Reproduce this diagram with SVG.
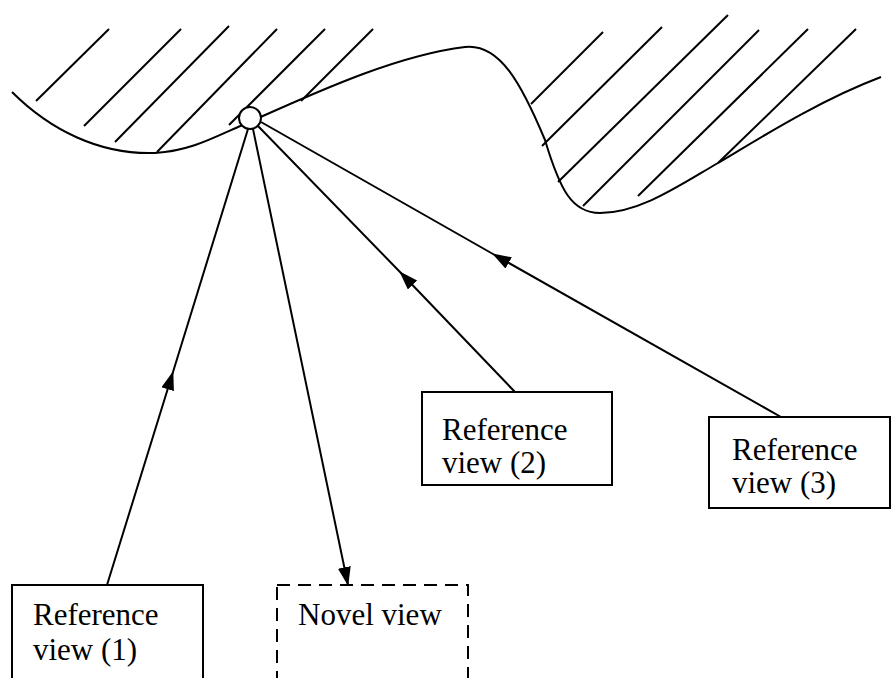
<svg xmlns="http://www.w3.org/2000/svg" width="893" height="678" viewBox="0 0 893 678">
<style>
.ln{fill:none;stroke:#000;stroke-width:2}
.box{fill:#fff;stroke:#000;stroke-width:2}
.dash{fill:#fff;stroke:#000;stroke-width:2;stroke-dasharray:13 8}
.t{font-family:"Liberation Serif","Times New Roman",serif;font-size:31px;fill:#000}
</style>
<defs>
<marker id="ah" markerUnits="userSpaceOnUse" markerWidth="20" markerHeight="14" refX="18" refY="6.5" orient="auto" viewBox="0 0 20 14">
<path d="M0,0 L19,6.5 L0,13 z" fill="#000"/>
</marker>
</defs>
<rect width="893" height="678" fill="#fff"/>
<g id="surface">
<path class="ln" d="M12,92 C50,130 100,155 155,153 C190,151 215,137 238,127 C300,100 390,56 465,47 C500,43 522,85 545,140 C560,190 572,213 600,213 C640,213 680,185 718,163 C760,138 820,100 881,77"/>
<g id="hatching" class="ln">
<line x1="36" y1="101" x2="109" y2="29"/>
<line x1="84" y1="126" x2="181" y2="29"/>
<line x1="115" y1="142" x2="229" y2="26"/>
<line x1="157" y1="152" x2="277" y2="29"/>
<line x1="229" y1="125" x2="325" y2="29"/>
<line x1="301" y1="101" x2="373" y2="29"/>
<line x1="531" y1="104" x2="603" y2="32"/>
<line x1="542" y1="146" x2="662" y2="27"/>
<line x1="558" y1="182" x2="728" y2="15"/>
<line x1="583" y1="206" x2="759" y2="30"/>
<line x1="638" y1="196" x2="808" y2="29"/>
<line x1="718" y1="163" x2="856" y2="29"/>
</g>
</g>
<g id="connectors" class="ln">
<path d="M107,585 L173,372 L248,129" marker-mid="url(#ah)"/>
<path d="M253,129 L348,585" marker-end="url(#ah)"/>
<path d="M515,392 L400,272 L258,126" marker-mid="url(#ah)"/>
<path d="M781,417 L493,254 L261,122" marker-mid="url(#ah)"/>
</g>
<g id="point">
<circle cx="250" cy="118" r="11" fill="#fff" stroke="#000" stroke-width="2"/>
</g>
<g id="ref1">
<rect class="box" x="12" y="585" width="191" height="100"/>
<text class="t" x="33" y="625">Reference</text>
<text class="t" x="33" y="660">view (1)</text>
</g>
<g id="novel">
<rect class="dash" x="277" y="585" width="191" height="100"/>
<text class="t" x="298" y="625">Novel view</text>
</g>
<g id="ref2">
<rect class="box" x="422" y="392" width="190" height="93"/>
<text class="t" x="442" y="440">Reference</text>
<text class="t" x="442" y="473">view (2)</text>
</g>
<g id="ref3">
<rect class="box" x="709" y="417" width="181" height="91"/>
<text class="t" x="732" y="460">Reference</text>
<text class="t" x="732" y="493">view (3)</text>
</g>
</svg>
